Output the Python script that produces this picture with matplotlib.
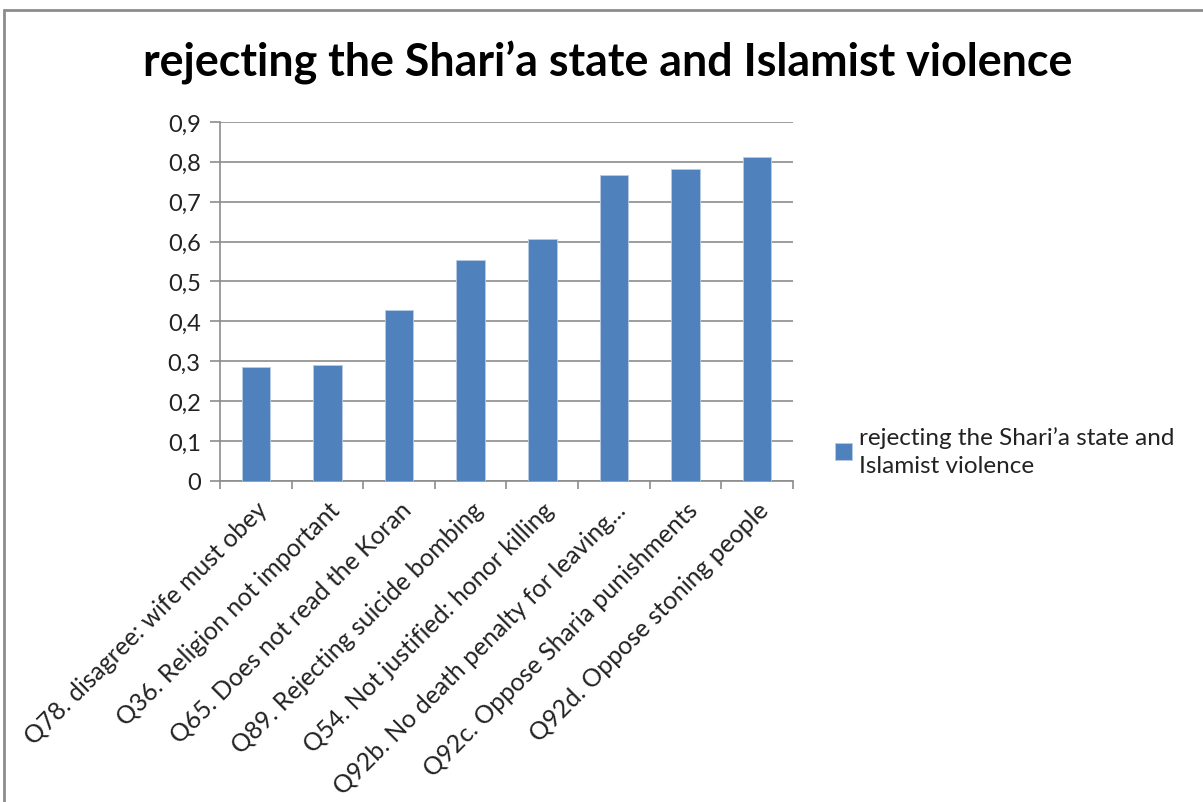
import matplotlib.pyplot as plt
from matplotlib.patches import Rectangle
import numpy as np

plt.rcParams['font.family'] = ['Lato', 'DejaVu Sans']

# Dữ liệu
categories = [
    "Q78. disagree: wife must obey",
    "Q36. Religion not important",
    "Q65. Does not read the Koran",
    "Q89. Rejecting suicide bombing",
    "Q54. Not justified: honor killing",
    "Q92b. No death penalty for leaving...",
    "Q92c. Oppose Sharia punishments",
    "Q92d. Oppose stoning people",
]
values = [0.286, 0.290, 0.428, 0.554, 0.606, 0.766, 0.782, 0.812]
yticks = [0, 0.1, 0.2, 0.3, 0.4, 0.5, 0.6, 0.7, 0.8, 0.9]
ytick_labels = ["0", "0,1", "0,2", "0,3", "0,4", "0,5", "0,6", "0,7", "0,8", "0,9"]
series_name = "rejecting the Shari\u2019a state and\nIslamist violence"
title = "rejecting the Shari\u2019a state and Islamist violence"

fig = plt.figure(figsize=(12.03, 8.03), dpi=100)
ax = fig.add_axes([0.183, 0.40, 0.476, 0.447])

# Khung ngoài của biểu đồ
fig.patches.append(Rectangle((4 / 1203, -0.1), 1.2, 1 - 11 / 803 + 0.1,
                             transform=fig.transFigure, fill=False,
                             edgecolor='#8c8c8c', linewidth=2))

x = np.arange(len(categories))
ax.bar(x, values, width=0.4, color='#4F81BD', edgecolor='#b8cce4',
       linewidth=0.6, label=series_name, zorder=3)

ax.set_xlim(-0.5, len(categories) - 0.5)
ax.set_ylim(0, 0.9)
ax.set_yticks(yticks)
ax.set_yticklabels(ytick_labels, fontsize=17, color='#222222')
ax.yaxis.grid(True, color='#8c8c8c', linewidth=1.2, zorder=0)

# Vạch chia trục x nằm giữa các nhóm
ax.set_xticks(np.arange(len(categories) + 1) - 0.5)
ax.set_xticklabels([])
ax.set_xticks(x, minor=True)
ax.set_xticklabels(categories, minor=True, rotation=45, ha='right',
                   va='top', rotation_mode='anchor', fontsize=17.8,
                   color='#222222')
ax.tick_params(axis='x', which='minor', length=0, pad=12)
ax.tick_params(axis='x', which='major', length=6, color='#8c8c8c', width=1.2)
ax.tick_params(axis='y', length=7, color='#8c8c8c', width=1.2, pad=7)

for side in ['top', 'right']:
    ax.spines[side].set_visible(False)
for side in ['left', 'bottom']:
    ax.spines[side].set_color('#8c8c8c')
    ax.spines[side].set_linewidth(1.2)

fig.text(0.505, 0.921, title, ha='center', va='center', fontsize=32.2,
         fontweight='bold', color='black')

leg = fig.legend(loc='center left', bbox_to_anchor=(0.676, 0.437),
                 frameon=False, fontsize=17.5, handlelength=0.7,
                 handleheight=0.7, handletextpad=0.3, labelcolor='#222222')
for t in leg.get_texts():
    t.set_linespacing(1.4)

fig.savefig('out.png', dpi=100)
